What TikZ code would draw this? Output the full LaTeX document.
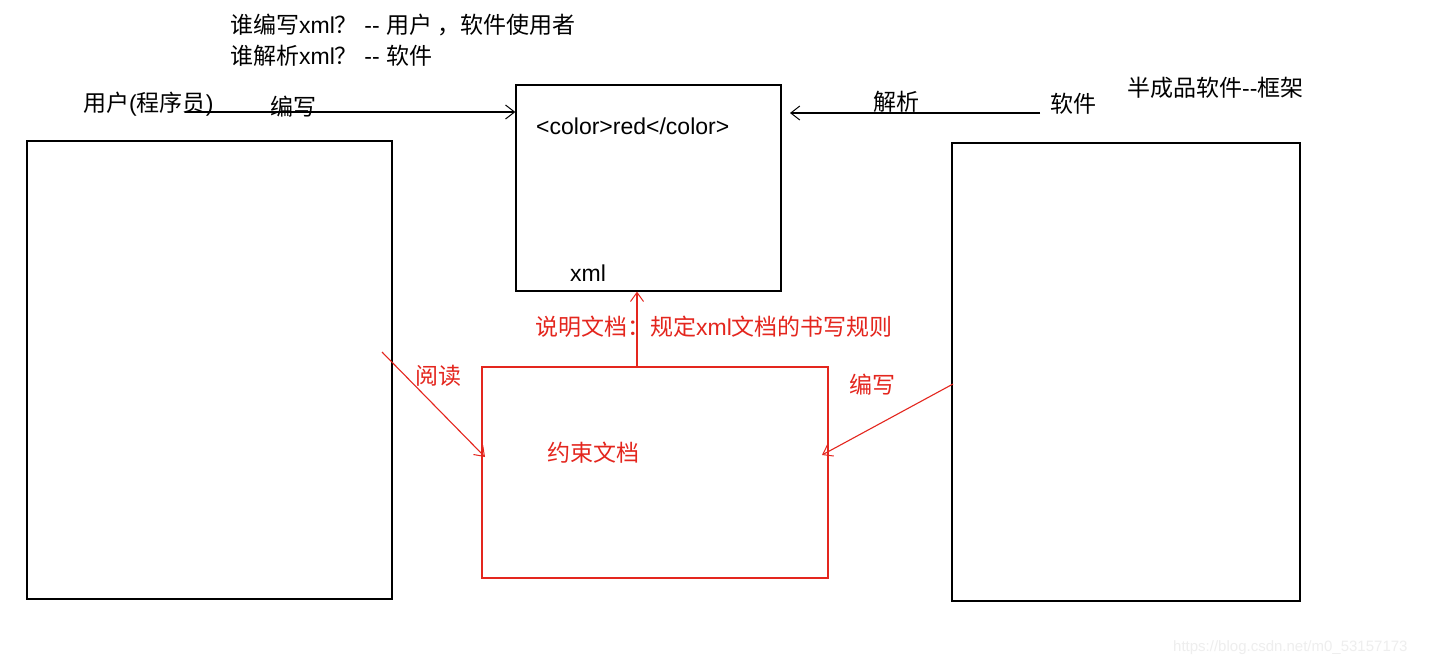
\documentclass[tikz,border=0pt]{standalone}
\usepackage{fontspec}
\setmainfont{Liberation Sans}
\newfontfamily\cjk{Noto Sans CJK SC}
\usetikzlibrary{arrows.meta}
\definecolor{myred}{RGB}{228,38,30}
\definecolor{wmgray}{RGB}{238,238,238}
\begin{document}
\begin{tikzpicture}[x=1pt,y=-1pt,
  txt/.style={inner sep=0pt,anchor=west,font=\fontsize{23}{26}\selectfont},
  rtxt/.style={txt,text=myred},
  box/.style={draw=black,line width=1.3pt,inner sep=0pt},
  rbox/.style={draw=myred,line width=1.3pt,inner sep=0pt},
  arr/.style={line width=1.3pt,-{Straight Barb[length=9pt,width=14pt,line width=1pt]}},
  rarr/.style={draw=myred,line width=1.1pt,-{Straight Barb[length=9pt,width=13pt,line width=1pt]}}]
\useasboundingbox (0,0) rectangle (1430,667);
\fill[white] (0,0) rectangle (1430,667);

% top questions
\node[txt] (q1) at (230,25) {{\cjk 谁编写}xml{\cjk ？} -{}- {\cjk 用户 ，软件使用者}};
\node[txt] (q2) at (230,56) {{\cjk 谁解析}xml{\cjk ？} -{}- {\cjk 软件}};

% boxes
\node[box,minimum width=365pt,minimum height=458pt] (left) at (209.5,370) {};
\node[box,minimum width=348pt,minimum height=458pt] (right) at (1126,372) {};
\node[box,minimum width=265pt,minimum height=206pt] (xml) at (648.5,188) {};
\node[rbox,minimum width=346pt,minimum height=211pt] (rule) at (655,472.5) {};

% texts
\node[txt] (user) at (83,104) {{\cjk 用户}({\cjk 程序员})};
\node[txt] (write1) at (270,107) {\cjk 编写};
\node[txt] (colortag) at (536,126) {<color>red</color>};
\node[txt] (xmllbl) at (570,273) {xml};
\node[txt] (parse) at (873,102) {\cjk 解析};
\node[txt] (soft) at (1050,104) {\cjk 软件};
\node[txt] (frame) at (1127,88) {{\cjk 半成品软件}-{}-{\cjk 框架}};
\node[rtxt] (desc) at (535,327) {{\cjk 说明文档：规定}xml{\cjk 文档的书写规则}};
\node[rtxt] (read) at (415,376) {\cjk 阅读};
\node[rtxt] (write2) at (849,385) {\cjk 编写};
\node[rtxt] (cons) at (547,453) {\cjk 约束文档};
\node[inner sep=0pt,anchor=west,text=wmgray,font=\fontsize{15}{17}\selectfont] (wm) at (1173,648) {https://blog.csdn.net/m0\_53157173};

% black connectors
\coordinate (wstart) at (185,112);
\draw[arr] (wstart) -- (wstart -| xml.west);
\coordinate (pstart) at (1040,113);
\coordinate (pend) at (790,113);
\draw[arr] (pstart) -- (pend);

% red connectors
\coordinate (ux) at (637,0);
\draw[rarr] (ux |- rule.north) -- (ux |- xml.south);
\coordinate (rstart) at (382,352);
\coordinate (rend) at (485,457);
\draw[rarr] (rstart) -- (rend);
\coordinate (wrstart) at (953,384);
\coordinate (wrend) at (822,455);
\draw[rarr] (wrstart) -- (wrend);
\end{tikzpicture}
\end{document}
